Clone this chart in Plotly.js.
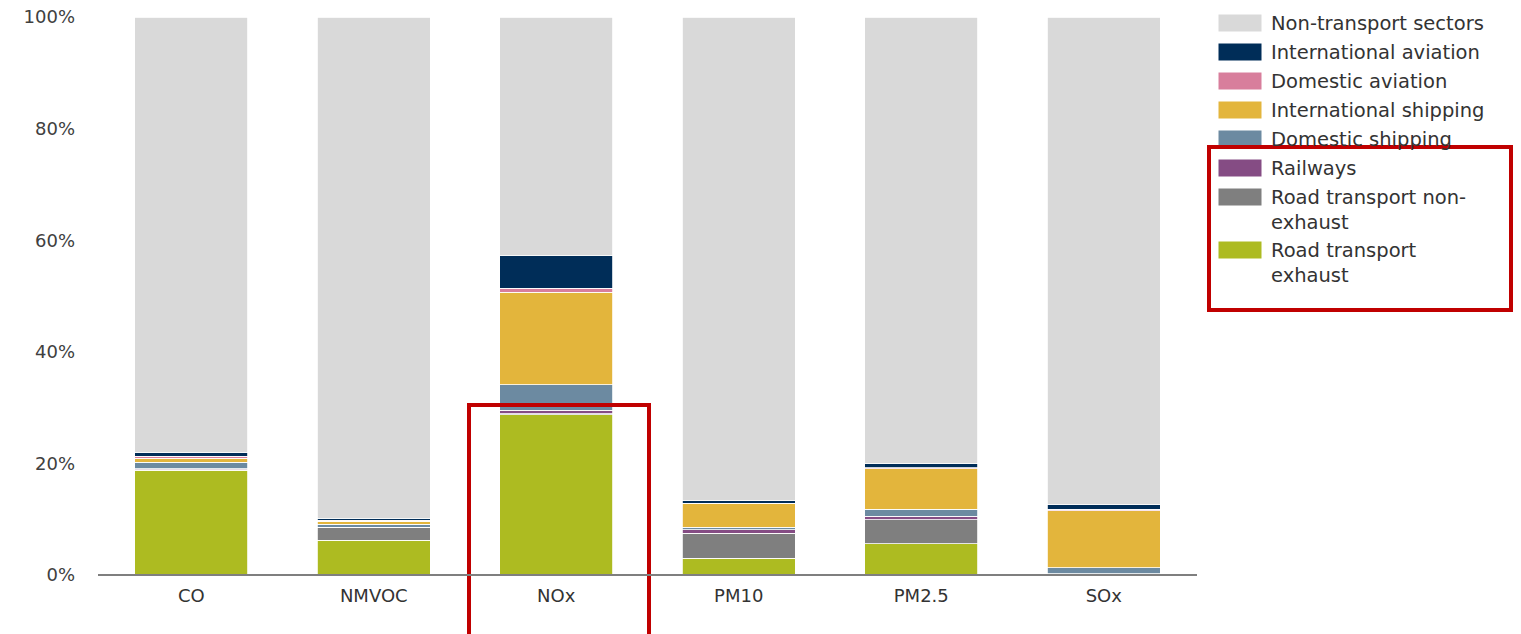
<!DOCTYPE html>
<html>
<head>
<meta charset="utf-8">
<script src="https://cdn.plot.ly/plotly-3.0.1.min.js"></script>
<style>html,body{margin:0;padding:0;background:#fff;}#chart{width:1521px;height:634px;}</style>
</head>
<body>
<div id="chart"></div>
<script>
// Categories (pollutants)
var categories = ["CO", "NMVOC", "NOx", "PM10", "PM2.5", "SOx"];

// Y tick values and labels
var yTickValues = [0, 20, 40, 60, 80, 100];
var yTickLabels = ["0%", "20%", "40%", "60%", "80%", "100%"];

// Series values (% share of total emissions), bottom to top of each stack
var roadExhaust     = [18.8, 6.2, 28.7, 3.0, 5.6, 0.1];
var roadNonExhaust  = [0.1, 2.3, 0.2, 4.5, 4.3, 0.0];
var railways        = [0.1, 0.1, 0.6, 0.6, 0.6, 0.1];
var domesticShipping= [1.2, 0.5, 4.6, 0.5, 1.3, 1.1];
var intlShipping    = [0.7, 0.5, 16.6, 4.2, 7.2, 10.2];
var domesticAviation= [0.4, 0.2, 0.7, 0.1, 0.2, 0.3];
var intlAviation    = [0.6, 0.4, 5.8, 0.4, 0.7, 0.8];
var nonTransport    = [78.1, 89.8, 42.8, 86.7, 80.1, 87.4];

var seriesNames = ["Road transport exhaust", "Road transport non-exhaust", "Railways", "Domestic shipping",
                   "International shipping", "Domestic aviation", "International aviation", "Non-transport sectors"];
var seriesValues = [roadExhaust, roadNonExhaust, railways, domesticShipping, intlShipping, domesticAviation, intlAviation, nonTransport];
var seriesColors = ["#adbb21", "#7f7f7f", "#854c84", "#6c8aa1", "#e3b53c", "#d87e9c", "#002d58", "#d9d9d9"];

// Legend labels as displayed
var legendLabels = {
  "Non-transport sectors": "Non-transport sectors",
  "International aviation": "International aviation",
  "Domestic aviation": "Domestic aviation",
  "International shipping": "International shipping",
  "Domestic shipping": "Domestic shipping",
  "Railways": "Railways",
  "Road transport non-exhaust": "Road transport non-<br>exhaust",
  "Road transport exhaust": "Road transport<br>exhaust"
};

var FONT = "DejaVu Sans, Verdana, sans-serif";

var traces = seriesNames.map(function (name, i) {
  return {
    type: "bar",
    name: name,
    x: categories,
    y: seriesValues[i],
    marker: {color: seriesColors[i], line: {color: "#ffffff", width: 0.8}},
    showlegend: false,
    hoverinfo: "name+y"
  };
});

// Plot area in pixels
var PL = 100, PR = 1195, PT = 17, PB = 575;
function px(x) { return (x - PL) / (PR - PL); }
function py(y) { return (PB - y) / (PB - PT); }

// Custom legend (top to bottom = reverse of stacking order)
var shapes = [];
var annotations = [];
var rowY = [23, 52, 81, 110, 139, 168, 197, 250];
for (var k = 0; k < seriesNames.length; k++) {
  var idx = seriesNames.length - 1 - k;
  var yc = rowY[k];
  shapes.push({
    type: "rect", xref: "paper", yref: "paper",
    x0: px(1218), x1: px(1262), y0: py(yc + 9), y1: py(yc - 9),
    fillcolor: seriesColors[idx], line: {color: "#ffffff", width: 1}, layer: "above"
  });
  annotations.push({
    xref: "paper", yref: "paper", x: px(1269), y: py(yc - 13),
    xanchor: "left", yanchor: "top", align: "left", showarrow: false,
    text: legendLabels[seriesNames[idx]],
    font: {family: FONT, size: 19.5, color: "#333333"}
  });
}

// Red highlight boxes
shapes.push({
  type: "rect", xref: "paper", yref: "paper",
  x0: px(1209), x1: px(1511), y0: py(310), y1: py(147),
  line: {color: "#c00000", width: 4}, fillcolor: "rgba(0,0,0,0)", layer: "above"
});
shapes.push({
  type: "rect", xref: "paper", yref: "paper",
  x0: px(469), x1: px(649), y0: py(645), y1: py(405),
  line: {color: "#c00000", width: 4}, fillcolor: "rgba(0,0,0,0)", layer: "above"
});
// Baseline extending slightly past plot edges as in the reference
shapes.push({
  type: "line", xref: "paper", yref: "paper",
  x0: px(98), x1: px(1197), y0: 0, y1: 0,
  line: {color: "#7f7f7f", width: 2}, layer: "above"
});

var layout = {
  width: 1521, height: 634,
  margin: {l: PL, r: 1521 - PR, t: PT, b: 634 - PB, pad: 0},
  paper_bgcolor: "#ffffff", plot_bgcolor: "#ffffff",
  barmode: "stack",
  bargap: 0.38,
  font: {family: FONT, color: "#404040"},
  xaxis: {
    type: "category",
    showgrid: false, zeroline: false,
    showline: false,
    ticks: "", ticklabelstandoff: 8,
    tickfont: {family: FONT, size: 18, color: "#333333"}
  },
  yaxis: {
    range: [0, 100], tickmode: "array", tickvals: yTickValues, ticktext: yTickLabels,
    showgrid: false, zeroline: false, showline: false,
    ticks: "", ticklabelstandoff: 24,
    tickfont: {family: FONT, size: 18, color: "#404040"}
  },
  shapes: shapes,
  annotations: annotations,
  showlegend: false
};

Plotly.newPlot("chart", traces, layout, {displayModeBar: false, staticPlot: true});
</script>
</body>
</html>
